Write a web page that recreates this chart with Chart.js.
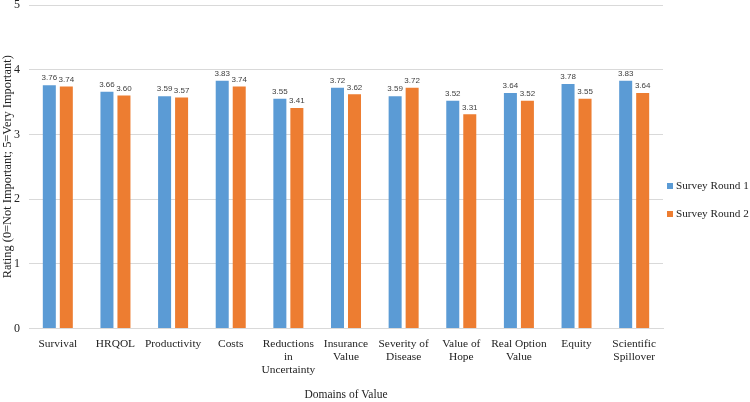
<!DOCTYPE html>
<html>
<head>
<meta charset="utf-8">
<script src="https://cdn.jsdelivr.net/npm/chart.js@4/dist/chart.umd.min.js"></script>
<style>
  html, body { margin: 0; padding: 0; background: #fff; }
  #wrap { width: 750px; height: 402px; }
</style>
</head>
<body>
<div id="wrap"><canvas id="chart"></canvas></div>
<script>
// === Data ===
const categories = [
  "Survival", "HRQOL", "Productivity", "Costs",
  ["Reductions", "in", "Uncertainty"], ["Insurance", "Value"],
  ["Severity of", "Disease"], ["Value of", "Hope"], ["Real Option", "Value"],
  "Equity", ["Scientific", "Spillover"]
];
const round1 = [3.76, 3.66, 3.59, 3.83, 3.55, 3.72, 3.59, 3.52, 3.64, 3.78, 3.83];
const round2 = [3.74, 3.60, 3.57, 3.74, 3.41, 3.62, 3.72, 3.31, 3.52, 3.55, 3.64];
const yTicks = [0, 1, 2, 3, 4, 5];

const serif = "'Liberation Serif', 'Times New Roman', serif";
const textColor = "#222";

// === Plugin: value labels above bars ===
const valueLabels = {
  id: "valueLabels",
  afterDatasetsDraw(chart) {
    const ctx = chart.ctx;
    ctx.save();
    ctx.font = "8px 'Liberation Sans', Arial, sans-serif";
    ctx.fillStyle = "#404040";
    ctx.textAlign = "center";
    ctx.textBaseline = "bottom";
    chart.data.datasets.forEach((ds, i) => {
      chart.getDatasetMeta(i).data.forEach((bar, j) => {
        ctx.fillText(ds.data[j].toFixed(2), bar.x, bar.y - 3);
      });
    });
    ctx.restore();
  }
};

// === Plugin: legend on the right, drawn by hand ===
const sideLegend = {
  id: "sideLegend",
  afterDraw(chart) {
    const ctx = chart.ctx;
    ctx.save();
    ctx.font = "11.2px " + serif;
    ctx.textBaseline = "middle";
    ctx.textAlign = "left";
    chart.data.datasets.forEach((ds, i) => {
      const y = 186 + i * 28;
      ctx.fillStyle = ds.backgroundColor;
      ctx.fillRect(667, y - 3, 6, 6);
      ctx.fillStyle = textColor;
      ctx.fillText(ds.label, 676, y);
    });
    ctx.restore();
  }
};

new Chart(document.getElementById("chart"), {
  type: "bar",
  data: {
    labels: categories,
    datasets: [
      { label: "Survey Round 1", data: round1, backgroundColor: "#5B9BD5" },
      { label: "Survey Round 2", data: round2, backgroundColor: "#ED7D31" }
    ]
  },
  options: {
    responsive: true,
    maintainAspectRatio: false,
    animation: false,
    datasets: { bar: { barPercentage: 0.765, categoryPercentage: 0.59 } },
    layout: { padding: { top: 5, right: 87, left: 0, bottom: 0 } },
    plugins: {
      legend: { display: false },
      tooltip: { enabled: false }
    },
    scales: {
      x: {
        grid: { display: false },
        border: { color: "#d9d9d9" },
        ticks: { font: { family: serif, size: 11.4, lineHeight: 1.13 }, color: textColor, maxRotation: 0, autoSkip: false, padding: 1 },
        title: { display: true, text: "Domains of Value", font: { family: serif, size: 11.5 }, color: textColor, padding: { top: 11, bottom: 0 } }
      },
      y: {
        min: 0,
        max: 5,
        afterBuildTicks: (scale) => { scale.ticks = yTicks.map(v => ({ value: v })); },
        afterFit: (scale) => { scale.width = 29; scale.paddingTop = 0; scale.paddingBottom = 0; },
        grid: { color: "#d9d9d9", drawTicks: false },
        border: { display: false },
        ticks: { font: { family: serif, size: 12 }, color: textColor, padding: 9 },
        title: { display: true, text: "Rating (0=Not Important; 5=Very Important)", font: { family: serif, size: 12.4 }, color: textColor, padding: 0 }
      }
    }
  },
  plugins: [valueLabels, sideLegend]
});
</script>
</body>
</html>
